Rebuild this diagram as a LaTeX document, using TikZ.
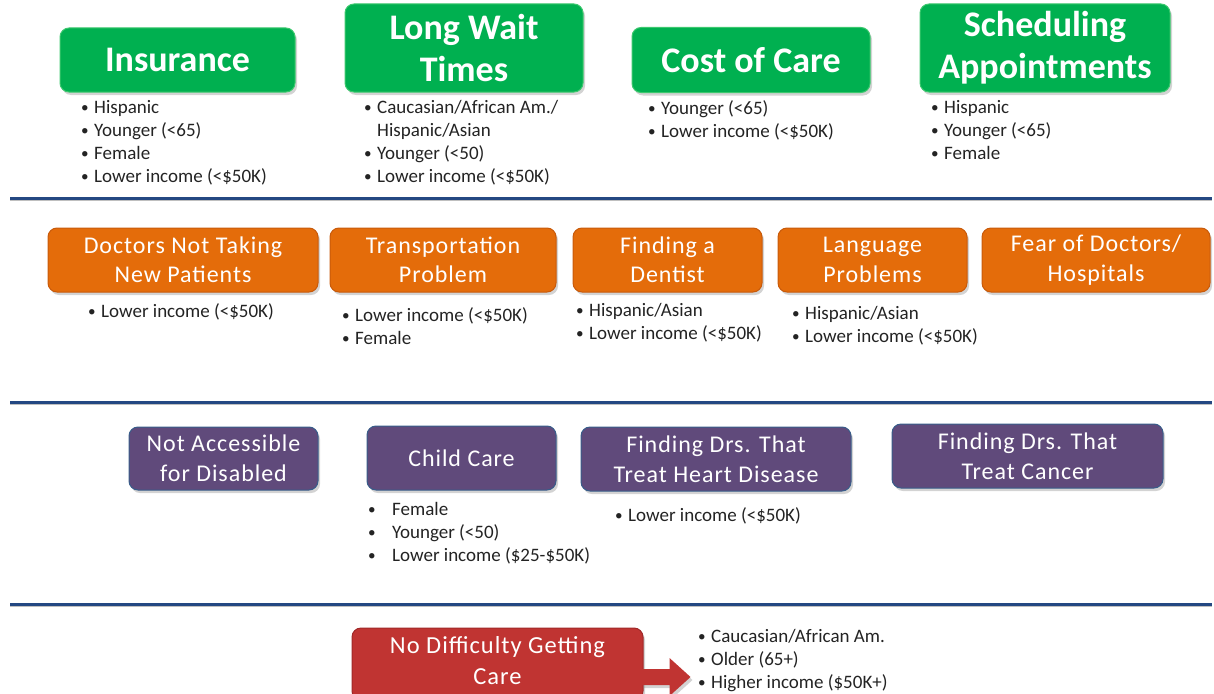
\documentclass[tikz,border=0pt]{standalone}
\usepackage{fontspec}
\setmainfont{Carlito}
\newfontfamily\boxfont[LetterSpace=4]{Carlito}
\usetikzlibrary{shadows,calc}

\definecolor{grn}{RGB}{0,176,80}
\definecolor{grnedge}{RGB}{60,200,110}
\definecolor{org}{RGB}{228,108,10}
\definecolor{orgedge}{RGB}{200,90,10}
\definecolor{prp}{RGB}{96,74,123}
\definecolor{prpedge}{RGB}{56,93,138}
\definecolor{rd}{RGB}{192,52,50}
\definecolor{rdedge}{RGB}{160,40,40}
\definecolor{sep}{RGB}{36,72,130}
\definecolor{txt}{RGB}{35,35,35}

\newcommand\bdot{\raisebox{0.5pt}{\scalebox{0.8}{\textbullet}}}
\newcommand\bitem[1]{\makebox[13pt][l]{\bdot}#1}
\newcommand\bcont[1]{\makebox[13pt][l]{}#1}
\newcommand\bwide[1]{\makebox[24pt][l]{\bdot}#1}

\tikzset{
  pill/.style={rounded corners=9pt, line width=1pt, inner sep=0pt, align=center,
    text=white, drop shadow={shadow xshift=2pt, shadow yshift=-3pt, opacity=0.35}},
  greenbox/.style={pill, fill=grn, draw=grnedge, font=\fontsize{36}{42}\selectfont\bfseries},
  orangebox/.style={pill, fill=org, draw=orgedge, font=\boxfont\fontsize{24}{29.5}\selectfont},
  purplebox/.style={pill, fill=prp, draw=prpedge, font=\boxfont\fontsize{24}{30}\selectfont},
  redbox/.style={pill, fill=rd, draw=rdedge, font=\boxfont\fontsize{24.5}{31}\selectfont},
  blist/.style={anchor=north west, inner sep=0pt, align=left, text=txt,
    font=\fontsize{19}{23}\selectfont},
  sepline/.style={draw=sep, line width=3pt},
  sepshade/.style={draw=black!25, line width=1.5pt},
}

\begin{document}
\begin{tikzpicture}[x=1pt,y=-1pt]
\useasboundingbox (0,0) rectangle (1214,693);

% ---- row 1: major barriers ----
\node[greenbox, minimum width=235, minimum height=64] (ins) at (177.5,60) {Insurance};
\node[greenbox, minimum width=238, minimum height=88] (wait) at (464,48) {Long Wait\\Times};
\node[greenbox, minimum width=238, minimum height=65] (cost) at (751,60) {Cost of Care};
\node[greenbox, minimum width=250, minimum height=88] (sched) at (1045,48) {Scheduling\\Appointments};

\node[blist] (insl) at (81,100) {\bitem{Hispanic}\\\bitem{Younger (<65)}\\\bitem{Female}\\\bitem{Lower income (<\$50K)}};
\node[blist] (waitl) at (364,100) {\bitem{Caucasian/African Am./}\\\bcont{Hispanic/Asian}\\\bitem{Younger (<50)}\\\bitem{Lower income (<\$50K)}};
\node[blist] (costl) at (648,100) {\bitem{Younger (<65)}\\\bitem{Lower income (<\$50K)}};
\node[blist] (schedl) at (931,100) {\bitem{Hispanic}\\\bitem{Younger (<65)}\\\bitem{Female}};

\coordinate (s1a) at (10,198);
\coordinate (s1b) at (1212,198);
\draw[sepshade] ($(s1a)+(0,2.5)$) -- ($(s1b)+(0,2.5)$);
\draw[sepline] (s1a) -- (s1b);

% ---- row 2 ----
\node[orangebox, minimum width=270, minimum height=64] (docs) at (183,260) {Doctors Not Taking\\New Patients};
\node[orangebox, minimum width=226, minimum height=64] (trans) at (443,260) {Transportation\\Problem};
\node[orangebox, minimum width=189, minimum height=64] (dent) at (667.5,260) {Finding a\\Dentist};
\node[orangebox, minimum width=189, minimum height=64] (lang) at (872.5,260) {Language\\Problems};
\node[orangebox, minimum width=228, minimum height=64] (fear) at (1096,260) {Fear of Doctors/\\Hospitals};

\node[blist] (docsl) at (88,303) {\bitem{Lower income (<\$50K)}};
\node[blist] (transl) at (342,307) {\bitem{Lower income (<\$50K)}\\\bitem{Female}};
\node[blist] (dentl) at (576,303) {\bitem{Hispanic/Asian}\\\bitem{Lower income (<\$50K)}};
\node[blist] (langl) at (792,306) {\bitem{Hispanic/Asian}\\\bitem{Lower income (<\$50K)}};

\coordinate (s2a) at (10,402);
\coordinate (s2b) at (1212,402);
\draw[sepshade] ($(s2a)+(0,2.5)$) -- ($(s2b)+(0,2.5)$);
\draw[sepline] (s2a) -- (s2b);

% ---- row 3 ----
\node[purplebox, minimum width=189, minimum height=63] (disab) at (223.5,458.5) {Not Accessible\\for Disabled};
\node[purplebox, minimum width=189, minimum height=64] (child) at (461.5,458) {Child Care};
\node[purplebox, minimum width=270, minimum height=64] (heart) at (716,459) {Finding Drs. That\\Treat Heart Disease};
\node[purplebox, minimum width=271, minimum height=64] (cancer) at (1027.5,456) {Finding Drs. That\\Treat Cancer};

\node[blist] (childl) at (368,502) {\bwide{Female}\\\bwide{Younger (<50)}\\\bwide{Lower income (\$25-\$50K)}};
\node[blist] (heartl) at (615,507) {\bitem{Lower income (<\$50K)}};

\coordinate (s3a) at (10,604);
\coordinate (s3b) at (1212,604);
\draw[sepshade] ($(s3a)+(0,2.5)$) -- ($(s3b)+(0,2.5)$);
\draw[sepline] (s3a) -- (s3b);

% ---- row 4: no difficulty ----
\node[redbox, minimum width=291, minimum height=72, text depth=8pt] (nodiff) at (497.5,664) {No Difficulty Getting\\Care};
\fill[rd, drop shadow={shadow xshift=2pt, shadow yshift=-3pt, opacity=0.35}]
  ($(nodiff.east)+(-2,5)$) -- ($(nodiff.east)+(26,5)$) -- ($(nodiff.east)+(26,-6)$)
  -- ($(nodiff.east)+(47,13)$) -- ($(nodiff.east)+(26,32)$) -- ($(nodiff.east)+(26,21)$)
  -- ($(nodiff.east)+(-2,21)$) -- cycle;
\node[blist] (nodiffl) at (698,629) {\bitem{Caucasian/African Am.}\\\bitem{Older (65+)}\\\bitem{Higher income (\$50K+)}};
\end{tikzpicture}
\end{document}
